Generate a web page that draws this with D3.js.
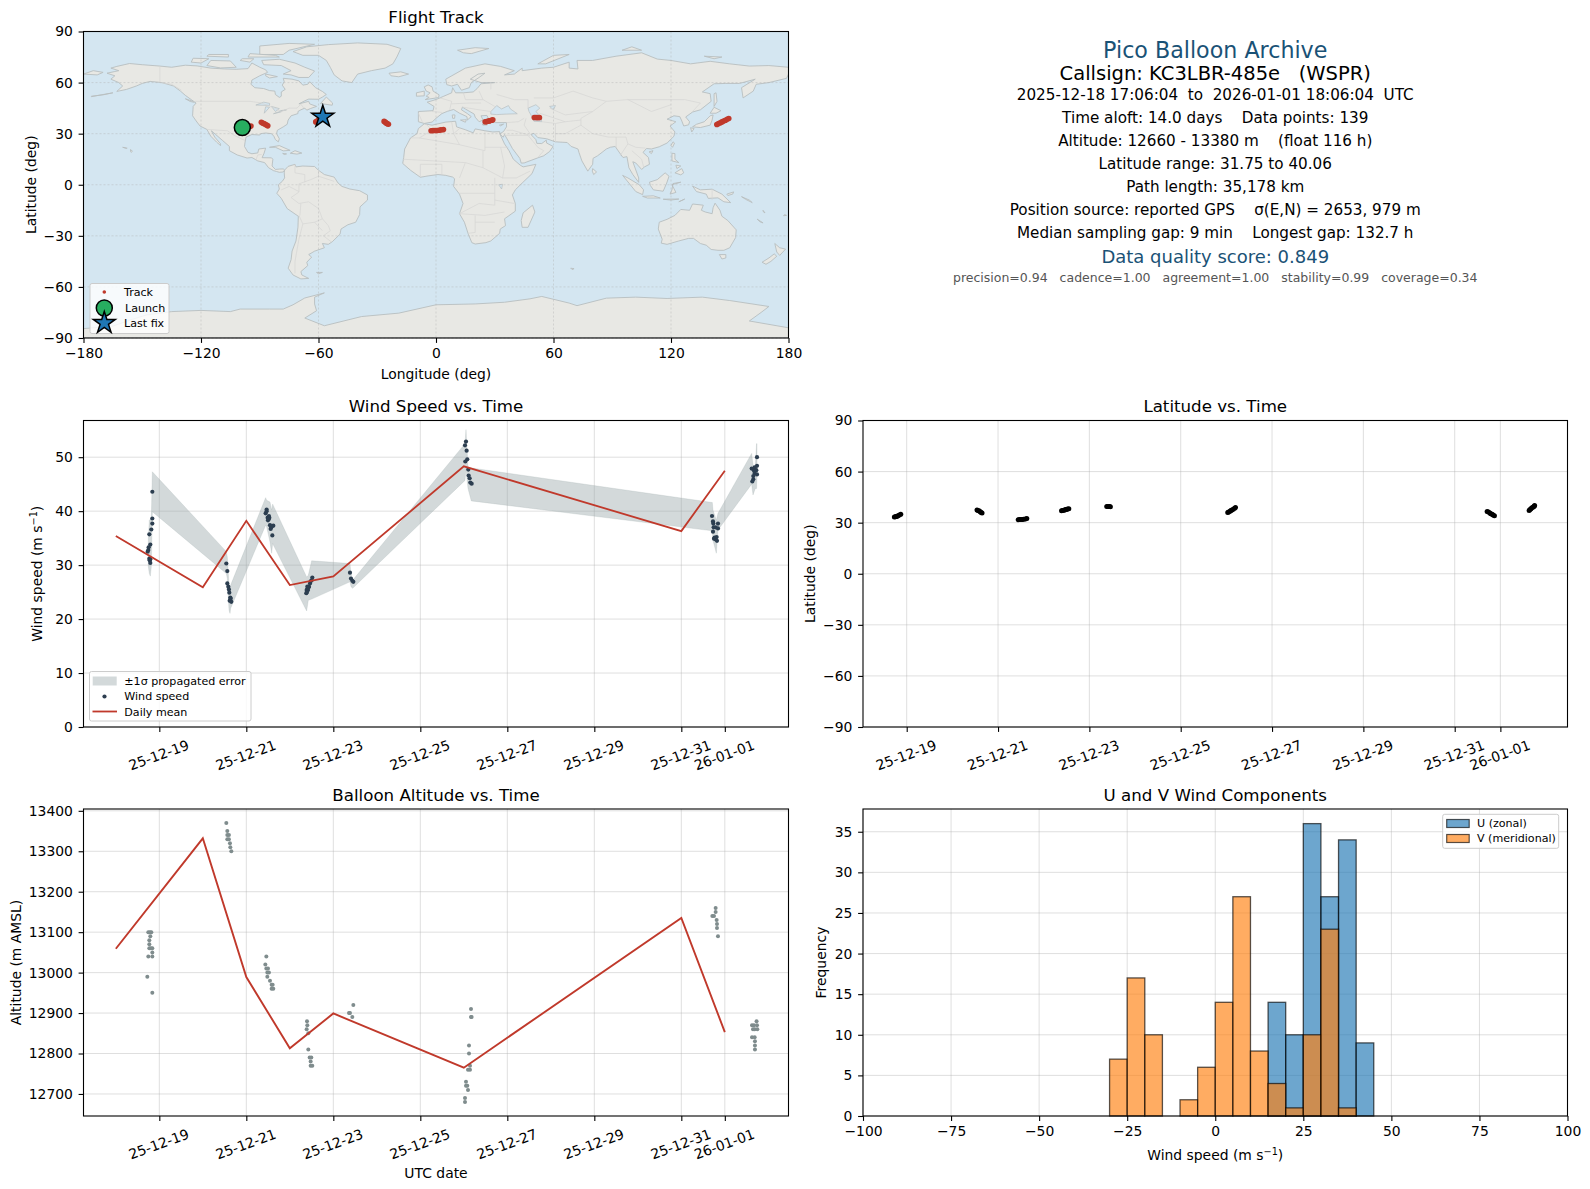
<!DOCTYPE html>
<html>
<head>
<meta charset="utf-8">
<script src="https://cdnjs.cloudflare.com/ajax/libs/d3/7.8.5/d3.min.js"></script>
<style>
  body { margin: 0; background: #fff; }
  text { font-family: "DejaVu Sans", sans-serif; fill: #000; }
  .tick text { font-size: 13.9px; }
  .ttl { font-size: 16.67px; text-anchor: middle; }
  .lab { font-size: 13.9px; text-anchor: middle; }
  .leg { font-size: 11.1px; }
</style>
</head>
<body>
<svg id="fig" width="1590" height="1189"></svg>
<script>
// ---- land outlines, [lon, lat]
const landAreas = [
  // North + Central America
  [[-168,65.5],[-164,66.5],[-162,67],[-166,68.5],[-163,69.5],[-156.5,71.2],[-150,70.5],[-141,69.7],[-135,69],[-128,70.2],[-122,69.8],[-115,68.5],[-108,68],[-102,67.8],[-96,68.2],[-94,71.5],[-90,69],[-87,67.5],[-86,66],[-90,64],[-94,61.5],[-94.5,59],[-92.5,57],[-88,56.5],[-85,55.3],[-82.3,55],[-82,53],[-80,51.3],[-79,52],[-79,54.5],[-77,56],[-78.5,58.5],[-77.5,60.5],[-78,62.5],[-73.5,62],[-70,61],[-68,58.5],[-65.5,59],[-64.5,60.5],[-61.5,57],[-58,54.8],[-56,53],[-58,51.5],[-60,50.2],[-65,50.3],[-67,49.3],[-70,47.5],[-65,49],[-64.5,47.5],[-61,46],[-64,44.8],[-66,43.8],[-67,45],[-69,44],[-70.5,43],[-70.5,41.8],[-74,40.5],[-75.5,38],[-76,35.5],[-78,34],[-81,32],[-81.4,30],[-80,27],[-80.5,25.2],[-82,26.5],[-82.8,28.5],[-84,30],[-87,30.4],[-89.5,30],[-90,29.2],[-94,29.5],[-97,28],[-97.5,25],[-97.8,22.5],[-96,19],[-94,18.2],[-91,18.7],[-90.5,21],[-87,21.5],[-87.8,18.5],[-88.8,15.9],[-84,15.8],[-83.3,15],[-83.7,11],[-82,9],[-80,9.2],[-78,9.3],[-77.3,8.6],[-78,7.5],[-80,7.3],[-81.5,7.8],[-83,8.3],[-85.5,10],[-87.5,13],[-91,14],[-94,16],[-96.5,15.7],[-101.5,17.5],[-105.5,20],[-105.5,22.5],[-109,26],[-112.5,29.5],[-114.7,31.7],[-113,28],[-110,24],[-110,23],[-112,25],[-115,28.5],[-117,32.5],[-120.5,34.5],[-122.5,37.5],[-124.3,40.5],[-124,46],[-122.5,48],[-125,50],[-128,52.5],[-130.5,55],[-134,58],[-140,60],[-146,60.7],[-150,59.5],[-153,58],[-158,56],[-163,54.8],[-160,58],[-162,60],[-166,62],[-164,64]],
  // South America
  [[-77.3,8.6],[-75.5,10.8],[-72,12],[-71.5,10.5],[-68,11],[-62,10.7],[-60,8.5],[-57,6],[-52,4.5],[-50,1],[-48,-1],[-44,-2.5],[-39,-3.5],[-35,-6],[-35,-9],[-38.8,-13],[-39,-17.5],[-41,-22],[-45,-23.5],[-48.5,-26],[-49,-29],[-53,-33.5],[-55,-35],[-58,-34.5],[-57,-37],[-62,-39],[-65,-41],[-63.5,-42.5],[-66,-45.5],[-65.5,-47.5],[-69,-51],[-68.5,-53],[-65,-55],[-69,-55.3],[-73,-53],[-75.5,-49],[-74,-44],[-73.5,-39],[-71.5,-33],[-70.5,-25],[-70.3,-18.5],[-76,-14],[-79,-8],[-81.3,-5],[-80,-2.5],[-80.5,0],[-78.5,2],[-77.3,4],[-77.5,7]],
  // Greenland + Arctic Canada
  [[-73,78.2],[-66,81],[-55,82.3],[-40,83.3],[-25,82.5],[-18,80],[-20,75],[-22,71],[-26,68.5],[-33,67],[-40,65],[-43,60],[-48,61],[-52,64.5],[-54,69],[-56,73],[-60,76],[-68,76]],
  [[-80,73.7],[-72,71.5],[-67,69],[-62,66.8],[-65,63],[-70,63],[-74,64.5],[-78,65],[-74,67],[-79,70],[-88,70.5],[-89,73]],
  [[-117,70],[-110,68.6],[-102,69],[-105,72.7],[-115,73]],
  [[-90,76.5],[-78,76.5],[-75,79],[-62,82.5],[-75,83],[-90,81.5]],
  [[-125,72],[-120,71.5],[-116,74],[-124,74.3]],
  [[-96,75],[-80,75],[-82,76],[-95,77]],
  [[-117,75.5],[-106,75],[-106,76.5],[-116,76.5]],
  [[-100,73],[-95,72],[-93,74],[-99,74]],
  [[-87,65],[-81,63.5],[-85,62.7],[-87,64]],
  [[-59,47.7],[-53,46.7],[-52.8,48],[-56,51.5]],
  [[-128,50.5],[-124,49],[-123.5,48.4],[-125.5,48.9]],
  // Caribbean, Pacific bits
  [[-85,22],[-80,23],[-74.5,20.2],[-78,19.9],[-82,22]],
  [[-74.4,18.5],[-72,20],[-68.5,18.6],[-71,18]],
  [[-78.3,18.4],[-76.3,18.1],[-77.5,17.8]],
  [[-156,20.7],[-155,19.7],[-155.7,19],[-156,19.7]],
  [[-160,22],[-158,21.3],[-157.7,21.5]],
  [[-176,52],[-170,52.8],[-165,54],[-170,53],[-176,51.7]],
  // Iceland, Britain, north Atlantic + Arctic islands
  [[-24,65.5],[-18,66.3],[-14,65],[-19,63.4],[-23,64]],
  [[-5.5,50],[1.3,51.2],[1.6,52.8],[-1.5,55],[-2,57.5],[-4,58.6],[-6,57.5],[-5,55],[-3,54],[-5,52],[-3.5,51.3]],
  [[-10,52],[-6,52.2],[-6,55],[-10,54]],
  [[11,79],[20,80.5],[27,80],[18,77],[14,77.5]],
  [[52,71],[56,71],[68,76.5],[60,76]],
  [[95,79],[105,79],[100,81]],
  [[137,75.5],[146,75],[142,74]],
  // Eurasia
  [[-9,37],[-6,36],[-2,36.8],[0,39],[3,41.8],[6,43.2],[9,44.2],[12,42],[15.8,40],[16,38],[18,40],[16,41.8],[13,44],[13.5,45.6],[15,44.5],[19.5,41.5],[20,39.7],[22,37],[24,38],[23,40.5],[26,40.7],[26.5,39.5],[27.5,37],[30.5,36.5],[36,36.5],[36,34],[34.5,31.3],[32.6,29.9],[34.3,27.9],[35,29.5],[37,25.5],[39,21.3],[42.8,15.5],[43.5,12.7],[45,12.8],[52,15.8],[55,17],[58,19.5],[59.8,22.5],[56.5,24.5],[56.3,26.2],[54,24.2],[51.5,24.3],[51,26.5],[48.5,29.5],[50,30.2],[52,27.7],[56.5,27],[61,25.2],[67,24.8],[69,22.5],[72.5,21],[73,19],[74.5,14],[77.5,8],[80,12],[80.2,15.5],[82.5,17],[87,21],[89,22],[91.5,22.5],[94.5,17.5],[95.5,16],[97.5,16.5],[98.5,10],[100.5,6],[103.5,1.4],[103.5,4],[100.5,13.5],[102,12.8],[105,9],[106.5,10.5],[109,12],[108.5,16],[105.7,19],[107.5,21.3],[110,21],[114,22.3],[118,24.5],[121.5,28.5],[122,31],[119.5,34.5],[122.5,37],[118,38.5],[121.5,40.5],[124.5,40],[125.5,37.5],[126.5,34.5],[129,35.2],[129.5,37],[127.5,39.8],[131,42.7],[135,44],[140.5,49],[140,53.5],[136,54.5],[142,59.3],[148,59.5],[155,59.5],[163,62],[156,57],[156.8,51],[162,55],[163.5,59],[170,60],[179,62.5],[180,65],[180,69],[170,70],[160,69.7],[150,71],[140,72.5],[130,71],[120,73],[113,73.8],[105,77.5],[92,75.5],[80,73],[72,73],[72.5,68],[68,68.5],[68,72],[60,69],[54,68.5],[44,67],[44,68.5],[40,65],[35,64.5],[40,67],[33,69.5],[25,71],[15,68.5],[5,62],[5.5,58.8],[8,58],[11,59],[13,55.5],[17,57],[18,60],[22,63],[25,65.5],[21.5,65],[17.5,62],[23,60],[30,60],[23,59.3],[21,56.5],[19,54.5],[14,54],[10,54],[8.5,57],[8,54],[4,52],[1,50.5],[-1.5,49.5],[-4.5,48.5],[-1,46],[-1.5,43.5],[-9,43]],
  [[-180,65],[-175,67],[-170,66],[-173,64.5],[-180,65]],
  // Africa + Madagascar
  [[-6,35.8],[-2,35],[5,36.8],[10,37.3],[10.5,34],[15,32.3],[19,30.5],[20,32.8],[25,31.7],[29,31],[32.5,31.2],[32.6,29.9],[35,24],[37.3,20],[39.5,15],[43,11.5],[44.5,10.5],[51,12],[49,6.5],[44,1],[40.5,-3],[39,-6],[40.5,-11],[40.5,-15.5],[35,-20],[35.5,-24],[32.8,-26],[32.5,-28.5],[28,-33],[25.5,-34],[20,-34.8],[18.3,-34],[16.5,-29],[14.5,-22],[12,-17],[13.8,-11],[12,-5.5],[9,-1],[9.5,3.5],[8.5,4.5],[5,5.5],[1,6],[-4,5.2],[-8,4.4],[-13,8.5],[-17,12.5],[-16.5,16],[-16,21],[-13,27.5],[-9.7,30],[-9,33]],
  [[49.3,-12],[50.5,-16],[47,-25],[44,-25],[43.5,-21],[44.5,-16.5]],
  // Mediterranean islands
  [[8.3,41],[9.7,41],[9.5,39],[8.5,39]],
  [[12.5,38],[15.5,38.2],[15,36.7]],
  [[23.5,35.5],[26.2,35.2],[24,35]],
  [[32.4,35],[34.5,35.6],[33,34.6]],
  // Oceania
  [[114,-22],[113.5,-26],[115.5,-32],[115,-34.3],[118,-35],[124,-33],[129,-31.5],[131.5,-31.5],[135,-34.5],[138,-35.5],[140.5,-38],[144,-38.5],[147,-38.5],[150,-37],[153,-31],[153.3,-26.5],[149,-21],[146,-18.5],[145,-15],[142.5,-10.8],[141.5,-13.5],[141,-17],[137.5,-16],[135.5,-15],[136.5,-12],[131,-11.3],[129.5,-15],[125,-14.5],[122,-18],[118,-20.3]],
  [[144.7,-41],[148,-41],[148,-43],[146,-43.6]],
  [[173,-34.5],[175.5,-37],[178.5,-37.8],[175.5,-41.5],[174,-39.5]],
  [[172.7,-40.6],[174,-42],[171,-45],[168.5,-46.7],[166.5,-45.5],[170,-43]],
  [[164,-20.2],[167,-22.4],[165.5,-21.8]],
  [[167,-15],[168,-16.5],[167.2,-16]],
  [[178,-17.5],[179,-18],[177.5,-18.2]],
  [[156,-7],[160,-9],[161.5,-10.5],[158,-8.5]],
  [[148.5,-5.5],[152,-4.2],[151.5,-5.5],[149,-6.3]],
  // Japan, east + southeast Asia islands
  [[131,34],[135,33.6],[140,35],[141,38],[141.5,41],[140,40.5],[137,37],[133,35.5]],
  [[140,42],[143,42],[145.5,43.5],[142,45.5]],
  [[130,33.5],[131.8,33],[130.6,31]],
  [[142,46],[143.5,49],[143,54],[142,53.5]],
  [[120,23],[121,25.2],[121.8,24.5],[120.8,22]],
  [[108.8,19.3],[110.8,20],[110,18.3]],
  [[80,9.5],[82,7.5],[80.5,6],[79.8,8]],
  [[120.5,18.5],[122,18.3],[122,15],[124,13],[120.5,14]],
  [[122,7],[125.5,9.5],[126.5,7],[125,5.8]],
  [[122.5,11.5],[125,11],[123,9.5]],
  [[95.3,5.5],[98,4],[103.8,0],[106,-3],[105.5,-5.8],[102,-4],[98.5,1]],
  [[105.5,-6.8],[111,-6.5],[114.5,-7.8],[108,-7.8]],
  [[109,1.5],[113,3],[117,7],[119,5],[117.8,1],[116,-3.8],[111,-3],[109.5,-0.5]],
  [[119.5,-5.5],[120.5,-3],[121,0.7],[125,1.5],[120.5,0],[122.5,-4.5]],
  [[116,-8.5],[120,-8.4],[124,-8.4],[120,-9]],
  [[124,-10],[127,-8.4],[125,-9.5]],
  [[131,-0.8],[135,-3],[141,-2.6],[146,-5.5],[150.5,-10.5],[147,-10],[144,-7.7],[139,-8],[138,-5.5],[133,-4]],
  // small southern islands
  [[68.8,-49],[70.5,-49.3],[69.5,-49.8]],
  [[-61,-51.5],[-58,-51.5],[-60,-52.3]],
  // Antarctica
  [[-180,-84.5],[-165,-83],[-155,-79],[-148,-76.5],[-135,-74.5],[-120,-73.8],[-105,-74.5],[-100,-73],[-85,-73],[-78,-73],[-73,-70.5],[-67,-66.5],[-57,-63.5],[-62,-66],[-62,-70],[-61,-74],[-67,-78.3],[-57,-82.8],[-38,-77.4],[-19,-75.4],[0,-70.5],[20,-70],[35,-69],[48,-67],[54,-65.6],[68,-69.5],[72,-71],[87,-66.6],[102,-66],[118,-66.8],[136,-66],[150,-68],[170,-71.5],[166,-75],[160,-80],[180,-84],[180,-90],[-180,-90]]
];

// inland water, drawn over the land
const inlandWater = [
  [[28,41.5],[31,41.2],[36,41.5],[41.5,41.7],[38,44.5],[37,46.5],[33.5,44.5],[31,46.5],[28,43]],
  [[47,45],[51,47],[53,45],[51,43],[53.5,40],[54,37],[50,37.3],[49,40],[47.5,43]],
  [[-92,46.8],[-88,48.5],[-85,47.8],[-85,46.6]],
  [[-87.7,42],[-85,45.5],[-87,45.8]],
  [[-84,46],[-80,44.7],[-82,43]],
  [[-83,41.7],[-79,42.8],[-79.5,43.5],[-76.3,44],[-79,43.3]],
  [[32,0],[34,0.3],[33.5,-2.5]],
  [[58,46],[61,46.5],[60,44]]
];

// country borders (faint)
const borderLines = [
  [[-123,49],[-95,49],[-89,48],[-82.5,45],[-79,43],[-75,45],[-71,45],[-69,47.3],[-67.5,45]],
  [[-141,69.7],[-141,60],[-135,59],[-130,55.5]],
  [[-117,32.5],[-106.5,31.7],[-103,29],[-99.5,27],[-97.5,26]],
  [[-92,14.5],[-91,17.5],[-89,17.8]],
  [[-52,2],[-60,5],[-64,3],[-70,0.5],[-70,-4.3],[-74,-7.5],[-70,-11],[-65,-10],[-60,-14],[-58,-20],[-55,-24],[-54,-27],[-57.5,-30],[-53.5,-33.5]],
  [[-70,-18],[-68,-23],[-70,-32],[-72,-45],[-72,-52]],
  [[-69,-11],[-69.5,-18]],[[-58,-20],[-62,-22],[-68,-23]],[[-58,-27],[-62,-22]],
  [[-72,12],[-72,7],[-67,6],[-67,1.5]],[[-79,-3],[-75,-1],[-70,-4]],[[-60,8.5],[-60,5]],
  [[-13,27.5],[-8.5,27.5],[12,23.5],[25,20],[25,31.5]],[[25,22],[37,22]],
  [[24,20],[24,10],[34,4],[41,4],[48,8]],[[-17,15],[15,13],[24,10]],[[12,4],[15,13]],
  [[12,-5],[30,-5]],[[30,4],[30,-12],[22,-11],[12,-17]],[[12,-17],[25,-18],[35,-16]],
  [[20,-18],[20,-28],[16.5,-28.5]],[[30,-22],[20,-22]],[[40,-11],[30,-9]],[[-8,4.5],[-8,12],[3,12],[3,6]],
  [[-5,35.5],[-2,32],[-8.5,27.5]],[[8,37],[9,30],[12,23.5]],[[12,33],[9,30]],[[33,22],[35,11],[34,4]],
  [[28,56],[28,60]],[[31,53],[40,50],[47,50],[47,45]],
  [[50,51],[60,51],[70,55],[80,51],[87,49],[98,50],[108,50],[118,50],[127,50],[135,48],[131,43]],
  [[74,35],[80,30],[88,28],[97,28],[98,24],[102,22],[107,21.5]],[[87,49],[80,43],[74,39],[74,35]],[[98,50],[110,43],[120,47]],
  [[61,25],[61,36],[54,37]],[[46,39],[45,35],[48,30]],[[74,35],[66,30],[61,30]],[[61,36],[66,37],[74,38]],[[53,42],[66,37]],[[80,43],[66,41],[58,45]],
  [[-2,43],[3,42.5]],[[2,51],[8,49],[7,44]],[[14,54],[15,50],[24,50],[22,55]],[[24,50],[30,46]],[[8,47.5],[17,48],[23,48]],[[13.5,45.6],[22,44],[28,43]],
  [[36,36.5],[42,37],[45,39]],[[36,32],[39,32],[48,29]],[[35,29],[47,29],[52,22],[55,20],[52,16]],[[-9,42],[-7,37]],
  [[92,28],[92,22]],[[98,24],[94,17]],[[100,20],[105,15],[106,10.5]],[[141,-2.6],[141,-9]]
];

// ---- flight track
const trackLon = [-98.9,-98,-97,-96,-95,-94.5, -89.2,-88.6,-87.9,-87.2,-86.5,-85.9, -2.5,-1.5,-0.5,0.5,1.5,2.5,3.8, 25.1,25.8,26.5,27.2,27.9,28.5,29, 50.2,51,51.8,52.8, 143.4,144.3,145.2,146,146.9,147.8,148.7,149.5, -26.5,-26,-25.6,-25.2,-24.8,-24.3, -61.4,-60.8,-60.2,-59.6,-59,-58.4,-57.8];
const trackLat = [33.6,33.7,33.8,33.9,34.2,34.5, 36.7,36.3,35.9,35.5,35,34.6, 31.75,31.8,31.85,31.9,32,32.2,32.4, 37,37.1,37.3,37.5,37.7,37.9,38.2, 39.5,39.5,39.45,39.4, 35.4,35.9,36.4,36.9,37.4,37.9,38.4,38.9, 37.2,36.8,36.4,36.1,35.8,35.5, 36.9,37.3,37.8,38.3,38.8,39.4,40.06];
const launchPos = [-98.9, 33.6];
const lastFixPos = [-57.8, 39.9];

// ---- time series, times are days since 2025-12-18 00:00 UTC
const windDays = [0.839,0.839,0.839,0.816,0.77,0.793,0.755,0.747,0.732,0.77,0.793,0.778,0.793,
  2.54,2.563,2.563,2.586,2.60,2.609,2.632,2.632,2.655,2.617,2.64,
  3.467,3.444,3.49,3.529,3.498,3.513,3.544,3.621,3.575,3.56,3.598,3.467,3.52,3.582,
  4.379,4.387,4.402,4.44,4.418,4.464,4.479,4.502,4.517,4.395,4.43,
  5.383,5.406,5.437,5.46,
  8.05,8.027,8.065,8.034,8.08,8.103,8.111,8.134,8.149,8.18,
  13.705,13.728,13.736,13.743,13.789,13.843,13.843,13.728,13.766,13.812,13.789,13.82,13.751,
  14.74,14.74,14.686,14.617,14.67,14.724,14.686,14.74,14.655,14.655,14.632];
const windSpeed = [43.6,38.64,37.7,36.6,35.7,33.8,33.3,32.8,32.5,31.2,31.1,30.9,30.4,
  30.3,28.9,26.6,26.0,25.5,24.9,24.0,23.5,23.2,23.4,23.8,
  40.3,39.6,38.8,38.8,38.3,38.5,37.4,37.3,37.0,36.7,35.5,40.0,39.1,37.2,
  24.8,25.4,26.0,26.0,25.4,26.6,27.0,27.2,27.7,25.0,25.9,
  28.6,27.5,27.1,26.9,
  52.9,52.2,51.2,49.2,49.6,47.7,46.6,46.1,45.3,45.1,
  39.1,38.1,37.7,37.0,37.0,37.7,36.8,36.2,35.1,35.2,34.75,34.5,34.9,
  50,48.4,48.1,47.9,47.5,47.6,47,46.8,46.5,45.9,45.5];

// propagated error band
const bandDays = [0.747,0.77,0.793,0.816,0.839,2.54,2.563,2.602,2.625,2.64,3.444,3.467,3.544,3.582,3.605,4.387,4.425,4.502,5.383,5.406,5.444,8.027,8.05,8.08,8.096,8.172,13.713,13.728,13.805,13.843,14.617,14.648,14.70,14.73,14.74];
const bandUpper = [34.9,38.3,38.5,38.6,47.3,32.5,31.5,26.3,26.0,26.3,42.5,42.0,41.7,40.2,41.3,27.8,28.1,30.8,30.3,28.45,27.2,52.5,55.1,50.7,48.2,48.0,41.6,40.2,38.3,39.6,50.7,48.5,48.2,52.5,52.5];
const bandLower = [29.7,28.45,27.96,29.7,39.9,28.45,27.5,21.7,21.05,22.0,37.4,37.1,34.3,32.2,34.0,21.5,23.5,23.7,26.9,26.0,25.7,45.7,47.9,45.4,44.2,41.9,36.35,34.6,32.2,36.5,45.0,43.0,44.2,44.2,46.4];

// daily means
const meanDays = [0,2,3,4,5,8,13,14];
const windMean = [35.4,25.9,38.2,26.3,27.9,48.3,36.3,47.5];
const altMean = [13059,13332,12989,12813,12899,12765,13135,12853];

const altDays = [0.747,0.785,0.816,0.793,0.77,0.77,0.77,0.808,0.839,0.839,0.747,0.839,0.724,0.839,
  2.54,2.563,2.563,2.60,2.563,2.60,2.624,2.632,2.655,
  3.46,3.437,3.46,3.498,3.483,3.52,3.483,3.544,3.582,3.605,3.582,3.62,
  4.395,4.402,4.387,4.425,4.425,4.456,4.494,4.479,4.479,4.517,
  5.383,5.36,5.437,5.46,
  8.165,8.18,8.165,8.119,8.119,8.142,8.096,8.142,8.05,8.05,8.08,8.096,8.027,8.027,
  13.789,13.789,13.713,13.751,13.812,13.82,13.82,13.843,
  14.73,14.625,14.67,14.74,14.648,14.686,14.747,14.625,14.686,14.693,14.693,14.693];
const altMeters = [13100,13100,13100,13090,13080,13070,13060,13060,13060,13050,13040,13040,12990,12950,
  13370,13350,13340,13340,13330,13330,13320,13310,13300,
  13040,13020,13010,13010,13000,13000,12990,12980,12970,12970,12960,12960,
  12880,12870,12860,12850,12810,12790,12790,12780,12770,12770,
  12900,12900,12890,12920,
  12910,12890,12890,12820,12800,12770,12760,12760,12730,12720,12720,12710,12690,12680,
  13160,13150,13140,13140,13130,13120,13110,13090,
  12880,12870,12870,12870,12860,12860,12860,12840,12840,12830,12820,12810];

const latDays = [0.73,0.75,0.77,0.79,0.81,0.84,0.87,
  2.54,2.56,2.59,2.61,2.63,2.65,
  3.44,3.47,3.50,3.53,3.56,3.60,3.63,
  4.39,4.41,4.44,4.46,4.48,4.50,4.52,4.55,
  5.38,5.41,5.44,5.46,
  8.03,8.05,8.08,8.10,8.12,8.15,8.18,8.20,
  13.71,13.74,13.77,13.79,13.82,13.84,13.87,
  14.63,14.65,14.67,14.69,14.72,14.74,14.75];
const latValues = [33.4,33.5,33.6,33.8,34.1,34.5,34.9,
  37.5,37.2,36.8,36.4,36.0,35.7,
  31.75,31.8,31.85,31.9,32,32.2,32.4,
  37,37.1,37.3,37.5,37.7,37.8,38,38.2,
  39.5,39.5,39.45,39.4,
  35.9,36.3,36.7,37.1,37.5,37.9,38.4,38.9,
  36.6,36.2,35.7,35.3,34.9,34.5,34,
  37.2,37.7,38.2,38.7,39.2,39.7,40.06];

// ---- histogram, 5 m/s bins
const binStarts = [-30,-25,-20,-15,-10,-5,0,5,10,15,20,25,30,35,40];
const uCounts = [0,0,0,0,0,0,0,0,0,14,10,36,27,34,9];
const vCounts = [7,17,10,0,2,6,14,27,8,4,1,10,23,1,0];

// ---- tick labels and header text
const dateTicks = [1,3,5,7,9,11,13,14];
const headerLines = [
  {t:"Pico Balloon Archive", y:58, size:22.2, fill:"#1a5276"},
  {t:"Callsign: KC3LBR-485e   (WSPR)", y:79.5, size:19.5, fill:"#000"},
  {t:"2025-12-18 17:06:04  to  2026-01-01 18:06:04  UTC", y:99.5, size:15.2, fill:"#000"},
  {t:"Time aloft: 14.0 days    Data points: 139", y:122.5, size:15.2, fill:"#000"},
  {t:"Altitude: 12660 - 13380 m    (float 116 h)", y:146, size:15.2, fill:"#000"},
  {t:"Latitude range: 31.75 to 40.06", y:169, size:15.2, fill:"#000"},
  {t:"Path length: 35,178 km", y:192, size:15.2, fill:"#000"},
  {t:"Position source: reported GPS    \u03c3(E,N) = 2653, 979 m", y:215, size:15.2, fill:"#000"},
  {t:"Median sampling gap: 9 min    Longest gap: 132.7 h", y:238, size:15.2, fill:"#000"},
  {t:"Data quality score: 0.849", y:263, size:18, fill:"#1a5276"},
  {t:"precision=0.94   cadence=1.00   agreement=1.00   stability=0.99   coverage=0.34", y:282, size:12.5, fill:"#555"}
];

// colours
const RED = "#c0392b", NAVY = "#2c3e50", SLATE = "#7f8c8d", GRID = "#b0b0b0";

const svg = d3.select("#fig");
const left = [83.5, 788.5], right = [863, 1567.5];
const row1 = [31.5, 338], row2 = [420.5, 727], row3 = [809, 1116];
const toDate = d => new Date(Date.UTC(2025, 11, 18) + d * 864e5);

function addAxes(xs, ys, xTicks, yTicks, opts) {
  opts = opts || {};
  const g = svg.append("g");
  const [x0, x1] = xs.range(), [y1, y0] = ys.range();
  const grid = g.append("g").attr("stroke", GRID).attr("stroke-width", opts.gridW || 1)
    .attr("stroke-opacity", opts.gridA || 0.4).attr("stroke-dasharray", opts.dash || null);
  xTicks.forEach(t => grid.append("line").attr("x1", xs(t)).attr("x2", xs(t)).attr("y1", y0).attr("y2", y1));
  yTicks.forEach(t => grid.append("line").attr("y1", ys(t)).attr("y2", ys(t)).attr("x1", x0).attr("x2", x1));
  const body = g.append("g");
  const top = svg.append("g");
  return {g, body, top, x0, x1, y0, y1, finish() {
    const ax = d3.axisBottom(xs).tickValues(xTicks).tickSize(4.9).tickPadding(5.7);
    if (opts.xFormat) ax.tickFormat(opts.xFormat); else ax.tickFormat(d3.format("d"));
    const xa = top.append("g").attr("transform", `translate(0,${y1})`).call(ax);
    const ya = top.append("g").attr("transform", `translate(${x0},0)`)
      .call(d3.axisLeft(ys).tickValues(yTicks).tickSize(4.9).tickPadding(5.7).tickFormat(d3.format("d")));
    [xa, ya].forEach(a => { a.select(".domain").remove(); a.selectAll("line").attr("stroke-width", 1.1); a.selectAll("text").attr("font-family", null).attr("font-size", null); });
    if (opts.xFormat) {
      xa.selectAll("text").attr("y", null).attr("dy", null).attr("text-anchor", "middle")
        .attr("dominant-baseline", "central").attr("transform", "translate(-1,28) rotate(-20)");
    }
    top.append("rect").attr("x", x0).attr("y", y0).attr("width", x1 - x0).attr("height", y1 - y0)
      .attr("fill", "none").attr("stroke", "#000").attr("stroke-width", 1.1);
    if (opts.title) svg.append("text").attr("class", "ttl").attr("x", (x0 + x1) / 2).attr("y", y0 - (opts.titleGap || 9)).text(opts.title);
  }};
}

function labelParts(t, parts) {
  if (typeof parts === "string") { t.text(parts); return; }
  t.append("tspan").text(parts.text);
  t.append("tspan").attr("dy", -5).attr("font-size", 9.7).text(parts.sup);
  t.append("tspan").attr("dy", 5).text(parts.tail);
}
function yLabel(x, yMid, parts) {
  labelParts(svg.append("text").attr("class", "lab").attr("transform", `translate(${x},${yMid}) rotate(-90)`), parts);
}
function xLabel(xMid, y, parts) {
  labelParts(svg.append("text").attr("class", "lab").attr("x", xMid).attr("y", y), parts);
}
function legendBox(x, y, w, h) {
  svg.append("rect").attr("x", x).attr("y", y).attr("width", w).attr("height", h).attr("rx", 2)
    .attr("fill", "#fff").attr("fill-opacity", 0.8).attr("stroke", "#ccc").attr("stroke-width", 1);
}
function legendText(x, y, s) {
  svg.append("text").attr("class", "leg").attr("x", x).attr("y", y).attr("dominant-baseline", "central").text(s);
}

// ---- map panel
{
  const xs = d3.scaleLinear().domain([-180, 180]).range(left);
  const ys = d3.scaleLinear().domain([-90, 90]).range([row1[1], row1[0]]);
  const clip = svg.append("clipPath").attr("id", "mapClip");
  clip.append("rect").attr("x", left[0]).attr("y", row1[0]).attr("width", left[1] - left[0]).attr("height", row1[1] - row1[0]);
  svg.append("rect").attr("x", left[0]).attr("y", row1[0]).attr("width", left[1] - left[0]).attr("height", row1[1] - row1[0]).attr("fill", "#d4e6f1");
  const lineGen = d3.line().x(d => xs(d[0])).y(d => ys(d[1]));
  const mapG = svg.append("g").attr("clip-path", "url(#mapClip)");
  mapG.selectAll("path.land").data(landAreas).join("path").attr("class", "land")
    .attr("d", d => lineGen(d) + "Z").attr("fill", "#e8e8e4").attr("stroke", "#b8bec0").attr("stroke-width", 0.9);
  mapG.selectAll("path.water").data(inlandWater).join("path").attr("class", "water")
    .attr("d", d => lineGen(d) + "Z").attr("fill", "#d4e6f1").attr("stroke", "#b8bec0").attr("stroke-width", 0.7);
  mapG.selectAll("path.border").data(borderLines).join("path").attr("class", "border")
    .attr("d", lineGen).attr("fill", "none").attr("stroke", "#d6d6d4").attr("stroke-width", 0.7);

  const a = addAxes(xs, ys, [-180,-120,-60,0,60,120,180], [-90,-60,-30,0,30,60,90],
    {title: "Flight Track", dash: "2,2", gridW: 0.8, gridA: 0.5});
  a.body.selectAll("circle").data(trackLon).join("circle")
    .attr("cx", d => xs(d)).attr("cy", (d, i) => ys(trackLat[i])).attr("r", 2.8).attr("fill", RED);
  a.body.append("circle").attr("cx", xs(launchPos[0])).attr("cy", ys(launchPos[1])).attr("r", 8)
    .attr("fill", "#27ae60").attr("stroke", "#000").attr("stroke-width", 1.5);
  a.body.append("path").attr("d", d3.symbol(d3.symbolStar, 150)())
    .attr("transform", `translate(${xs(lastFixPos[0])},${ys(lastFixPos[1])})`)
    .attr("fill", "#1f77b4").attr("stroke", "#000").attr("stroke-width", 1.5);
  a.finish();
  yLabel(36, (row1[0] + row1[1]) / 2, "Latitude (deg)");
  xLabel((left[0] + left[1]) / 2, 379, "Longitude (deg)");

  legendBox(90, 283.5, 79, 50);
  svg.append("circle").attr("cx", 104.3).attr("cy", 292).attr("r", 1.8).attr("fill", RED);
  legendText(124, 292, "Track");
  svg.append("circle").attr("cx", 104.3).attr("cy", 308).attr("r", 8)
    .attr("fill", "#27ae60").attr("stroke", "#000").attr("stroke-width", 1.5);
  legendText(125, 308, "Launch");
  svg.append("path").attr("d", d3.symbol(d3.symbolStar, 150)()).attr("transform", "translate(104.3,323)")
    .attr("fill", "#1f77b4").attr("stroke", "#000").attr("stroke-width", 1.5);
  legendText(124, 323, "Last fix");
}

// ---- header text panel
{
  const cx = (right[0] + right[1]) / 2;
  svg.append("g").selectAll("text").data(headerLines).join("text")
    .attr("x", cx).attr("y", d => d.y).attr("text-anchor", "middle")
    .style("font-size", d => d.size + "px").style("fill", d => d.fill)
    .style("white-space", "pre").text(d => d.t);
}

const fmtDate = d3.utcFormat("%y-%m-%d");

// ---- wind speed
const xLeft = d3.scaleUtc().domain([toDate(-0.743), toDate(15.464)]).range(left);
{
  const ys = d3.scaleLinear().domain([0, 56.8]).range([row2[1], row2[0]]);
  const a = addAxes(xLeft, ys, dateTicks.map(toDate), [0,10,20,30,40,50],
    {title: "Wind Speed vs. Time", xFormat: fmtDate});
  const area = d3.area().x(d => xLeft(toDate(d))).y0((d, i) => ys(bandLower[i])).y1((d, i) => ys(bandUpper[i]));
  a.body.append("path").attr("d", area(bandDays)).attr("fill", "#95a5a6").attr("fill-opacity", 0.42)
    .attr("stroke", "#95a5a6").attr("stroke-opacity", 0.2);
  a.body.selectAll("circle").data(windDays).join("circle")
    .attr("cx", d => xLeft(toDate(d))).attr("cy", (d, i) => ys(windSpeed[i])).attr("r", 2.1).attr("fill", NAVY);
  const line = d3.line().x(d => xLeft(toDate(d))).y((d, i) => ys(windMean[i]));
  a.body.append("path").attr("d", line(meanDays)).attr("fill", "none").attr("stroke", RED).attr("stroke-width", 1.8);
  a.finish();
  yLabel(42, (row2[0] + row2[1]) / 2, {text: "Wind speed (m s", sup: "\u22121", tail: ")"});

  legendBox(89.5, 671.5, 161.5, 49.5);
  svg.append("rect").attr("x", 92.7).attr("y", 676.5).attr("width", 24).attr("height", 9).attr("fill", "#95a5a6").attr("fill-opacity", 0.42);
  legendText(124.3, 681.5, "\u00b11\u03c3 propagated error");
  svg.append("circle").attr("cx", 104.5).attr("cy", 696.5).attr("r", 2.1).attr("fill", NAVY);
  legendText(124.3, 696.5, "Wind speed");
  svg.append("line").attr("x1", 92.5).attr("x2", 117).attr("y1", 711.5).attr("y2", 711.5).attr("stroke", RED).attr("stroke-width", 1.8);
  legendText(124.3, 712, "Daily mean");
}

// ---- latitude vs time
{
  const xs = d3.scaleUtc().domain([toDate(0.043), toDate(15.47)]).range(right);
  const ys = d3.scaleLinear().domain([-90, 90]).range([row2[1], row2[0]]);
  const a = addAxes(xs, ys, dateTicks.map(toDate), [-90,-60,-30,0,30,60,90],
    {title: "Latitude vs. Time", xFormat: fmtDate});
  a.body.selectAll("circle").data(latDays).join("circle")
    .attr("cx", d => xs(toDate(d))).attr("cy", (d, i) => ys(latValues[i])).attr("r", 2.5).attr("fill", "#000");
  a.finish();
  yLabel(815, (row2[0] + row2[1]) / 2, "Latitude (deg)");
}

// ---- altitude vs time
{
  const ys = d3.scaleLinear().domain([12645.5, 13404.5]).range([row3[1], row3[0]]);
  const a = addAxes(xLeft, ys, dateTicks.map(toDate), [12700,12800,12900,13000,13100,13200,13300,13400],
    {title: "Balloon Altitude vs. Time", xFormat: fmtDate, titleGap: 8});
  a.body.selectAll("circle").data(altDays).join("circle")
    .attr("cx", d => xLeft(toDate(d))).attr("cy", (d, i) => ys(altMeters[i])).attr("r", 2).attr("fill", SLATE);
  const line = d3.line().x(d => xLeft(toDate(d))).y((d, i) => ys(altMean[i]));
  a.body.append("path").attr("d", line(meanDays)).attr("fill", "none").attr("stroke", RED).attr("stroke-width", 1.9);
  a.finish();
  yLabel(21, (row3[0] + row3[1]) / 2, "Altitude (m AMSL)");
  xLabel((left[0] + left[1]) / 2, 1178, "UTC date");
}

// ---- wind component histogram
{
  const xs = d3.scaleLinear().domain([-100, 100]).range(right);
  const ys = d3.scaleLinear().domain([0, 37.8]).range([row3[1], row3[0]]);
  const a = addAxes(xs, ys, [-100,-75,-50,-25,0,25,50,75,100], [0,5,10,15,20,25,30,35],
    {title: "U and V Wind Components", titleGap: 8});
  const drawBars = (counts, colour) => a.body.append("g").selectAll("rect")
    .data(binStarts.filter((b, i) => counts[i] > 0)).join("rect")
    .attr("x", d => xs(d)).attr("width", d => xs(d + 5) - xs(d))
    .attr("y", d => ys(counts[binStarts.indexOf(d)])).attr("height", d => ys(0) - ys(counts[binStarts.indexOf(d)]))
    .attr("fill", colour).attr("fill-opacity", 0.65)
    .attr("stroke", "#000").attr("stroke-opacity", 0.65).attr("stroke-width", 1.3);
  drawBars(uCounts, "#1f77b4");
  drawBars(vCounts, "#ff7f0e");
  a.finish();
  yLabel(826, (row3[0] + row3[1]) / 2, "Frequency");
  xLabel((right[0] + right[1]) / 2, 1160, {text: "Wind speed (m s", sup: "\u22121", tail: ")"});

  legendBox(1442.7, 814.3, 116, 34);
  [["#1f77b4", "U (zonal)", 823.5], ["#ff7f0e", "V (meridional)", 838.5]].forEach(r => {
    svg.append("rect").attr("x", 1446.7).attr("y", r[2] - 4).attr("width", 22.5).attr("height", 8)
      .attr("fill", r[0]).attr("fill-opacity", 0.65).attr("stroke", "#000").attr("stroke-opacity", 0.65).attr("stroke-width", 1.2);
    legendText(1477, r[2], r[1]);
  });
}
</script>
</body>
</html>
